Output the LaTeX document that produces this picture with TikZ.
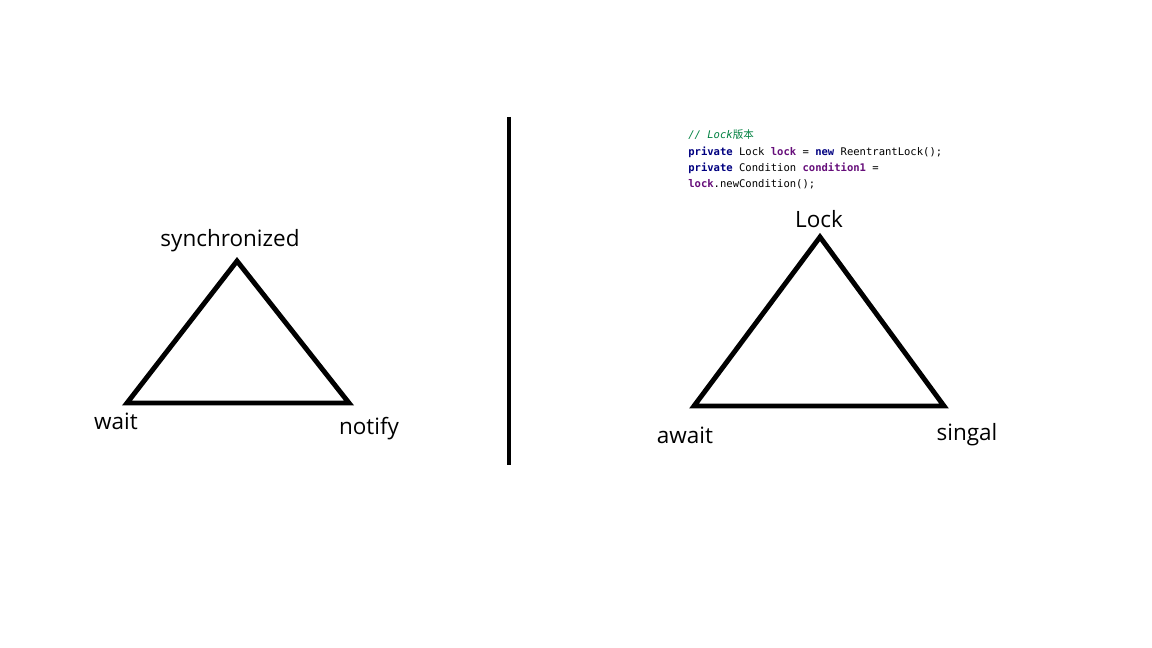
\documentclass[tikz,border=0pt]{standalone}
\usepackage{fontspec}
\setmainfont{Open Sans}
\setmonofont{DejaVu Sans Mono}
\newfontfamily\cjk{Noto Sans CJK SC}
\usepackage{xcolor}
\definecolor{cmtgreen}{RGB}{0,128,64}
\definecolor{kwblue}{RGB}{0,0,128}
\definecolor{fieldpurple}{RGB}{102,14,122}
\tikzset{
  lbl/.style={inner sep=0pt, font=\fontsize{12.8}{15}\selectfont},
  code/.style={inner sep=0pt, anchor=west, font=\ttfamily\fontsize{6}{7}\selectfont},
  tri/.style={line width=2.8pt}
}
\newcommand{\kw}[1]{\textcolor{kwblue}{\textbf{#1}}}
\newcommand{\fld}[1]{\textcolor{fieldpurple}{\textbf{#1}}}

\begin{document}
\begin{tikzpicture}[x=0.02cm,y=-0.02cm]
\useasboundingbox (0,0) rectangle (1152,648);
% left: synchronized
\coordinate (sync) at (237,261);
\coordinate (wait) at (127,403);
\coordinate (notify) at (349,403);
\draw [tri] (sync)--(notify)--(wait)--cycle;
\node [lbl] (syncl) at (230,241) {synchronized};
\node [lbl] (waitl) at (116,421) {wait};
\node [lbl] (notifyl) at (369,429) {notify};

% separator
\coordinate (septop) at (509,117);
\coordinate (sepbot) at (509,465);
\draw [line width=2.3pt] (septop)--(sepbot);

% right: Lock
\coordinate (lock) at (820,237);
\coordinate (await) at (694,406);
\coordinate (singal) at (944,406);
\draw [tri] (lock)--(singal)--(await)--cycle;
\node [lbl] (lockl) at (819,219) {Lock};
\node [lbl] (awaitl) at (685,435) {await};
\node [lbl] (singall) at (967,435) {singal};

% code
\node [code] (c1) at (688,135) {\textcolor{cmtgreen}{\textit{// Lock}{\cjk 版本}}};
\node [code] (c2) at (688,152) {\kw{private} Lock \fld{lock} = \kw{new} ReentrantLock();};
\node [code] (c3) at (688,168) {\kw{private} Condition \fld{condition1} =};
\node [code] (c4) at (688,184) {\fld{lock}.newCondition();};
\end{tikzpicture}
\end{document}
